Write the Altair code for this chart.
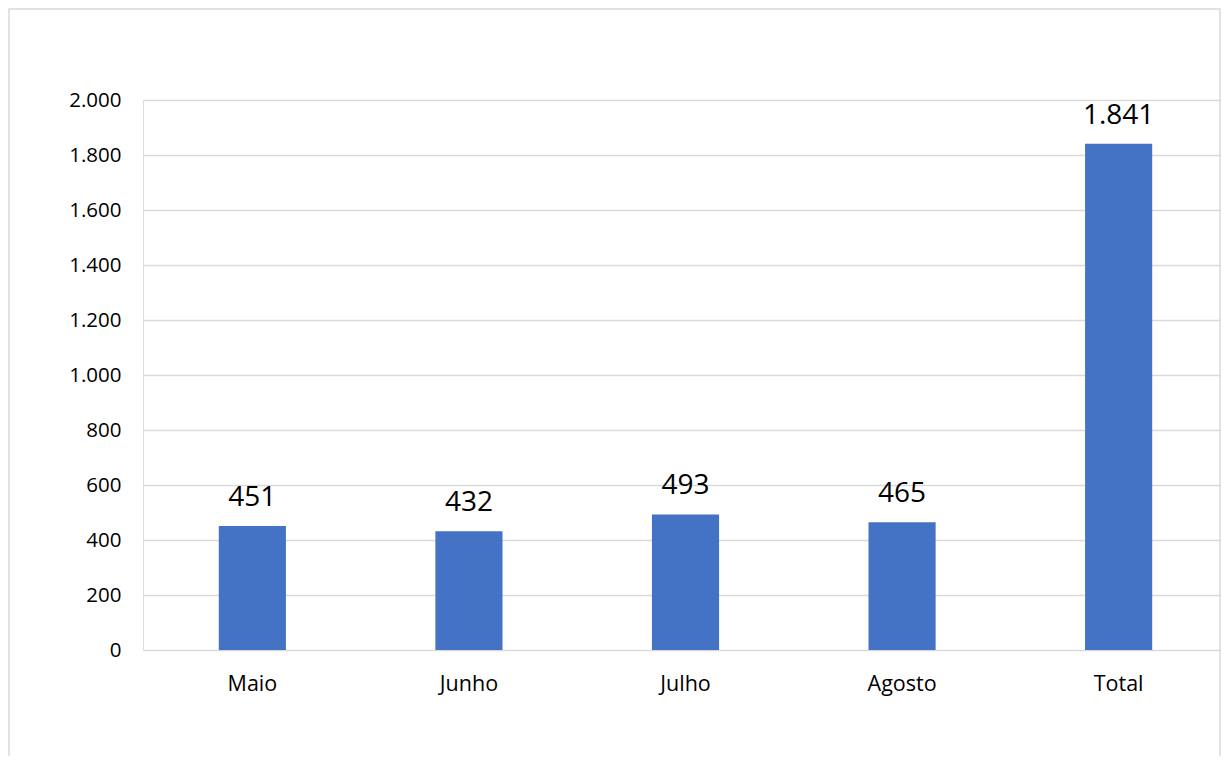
import altair as alt
import pandas as pd

categories = ["Maio", "Junho", "Julho", "Agosto", "Total"]
values = [451, 432, 493, 465, 1841]
y_ticks = [0, 200, 400, 600, 800, 1000, 1200, 1400, 1600, 1800, 2000]

df = pd.DataFrame({"mes": categories, "valor": values})

FONT = "Open Sans"
PAD_L, PAD_T = 135, 92
W, H = 1078, 550

x_enc = alt.X(
    "mes:N",
    sort=categories,
    title=None,
    scale=alt.Scale(range=[0, 1085], paddingInner=0.69, paddingOuter=0.35),
    axis=alt.Axis(labelAngle=0, labelFontSize=21.5, labelFont=FONT, labelColor="#000000",
                  labelPadding=23, ticks=False, domain=False, grid=False),
)
y_enc = alt.Y(
    "valor:Q",
    title=None,
    scale=alt.Scale(domain=[0, 2000], nice=False),
    axis=alt.Axis(values=y_ticks, labelFontSize=20.5, labelFont=FONT, labelColor="#000000",
                  labelPadding=22, ticks=False, domain=False, grid=True,
                  gridColor="#d9d9d9", gridWidth=1.5,
                  labelExpr="replace(format(datum.value, ','), ',', '.')"),
)

bars = alt.Chart(df).mark_bar(color="#4472C4").encode(x=x_enc, y=y_enc)

labels = alt.Chart(df).transform_calculate(
    txt="replace(format(datum.valor, ','), ',', '.')"
).mark_text(font=FONT, fontSize=28, color="#000000", baseline="alphabetic", dy=-20).encode(
    x=alt.X("mes:N", sort=categories),
    y="valor:Q",
    text="txt:N",
)

border = alt.Chart(pd.DataFrame({"k": [0]})).mark_rect(
    fill=None, stroke="#d9d9d9", strokeWidth=1.5
).encode(
    x=alt.value(-PAD_L + 1), x2=alt.value(W - 1),
    y=alt.value(-PAD_T + 1), y2=alt.value(H + 200),
)

chart = alt.layer(border, bars, labels).properties(
    width=W, height=H,
    autosize=alt.AutoSizeParams(type="none"),
    padding={"left": PAD_L, "top": PAD_T, "right": 0, "bottom": 106},
).configure_view(stroke=None).configure(background="white")

chart.save("out.html", embed_options={"renderer": "svg", "actions": False})
